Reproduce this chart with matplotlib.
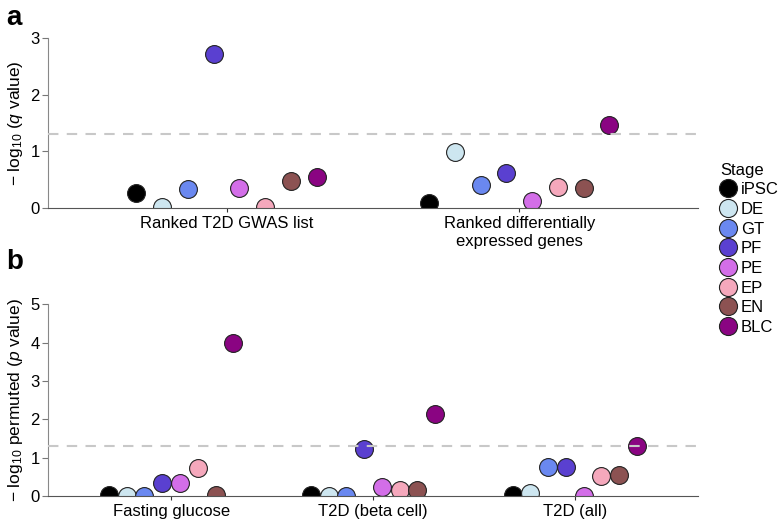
import numpy as np
import matplotlib
matplotlib.use("Agg")
import matplotlib.pyplot as plt
from matplotlib.lines import Line2D

plt.rcParams['font.family'] = ['Liberation Sans', 'DejaVu Sans']
plt.rcParams['mathtext.fontset'] = 'custom'
plt.rcParams['mathtext.rm'] = 'Liberation Sans'
plt.rcParams['mathtext.it'] = 'Liberation Sans:italic'

stages = ["iPSC", "DE", "GT", "PF", "PE", "EP", "EN", "BLC"]
stage_colors = ["#000000", "#cde6f0", "#6a88f0", "#5a40d0", "#d36ee8",
                "#f5a8bc", "#8c5252", "#8a0482"]

# panel a: -log10 q value
cats_a = ["Ranked T2D GWAS list", "Ranked differentially\nexpressed genes"]
vals_a = [
    [0.27, 0.02, 0.34, 2.71, 0.35, 0.02, 0.48, 0.55],
    [0.08, 0.98, 0.40, 0.62, 0.13, 0.37, 0.35, 1.47],
]

# panel b: -log10 permuted p value
cats_b = ["Fasting glucose", "T2D (beta cell)", "T2D (all)"]
vals_b = [
    [0.02, 0.0, 0.0, 0.33, 0.34, 0.74, 0.02, 3.99],
    [0.02, 0.0, 0.0, 1.23, 0.23, 0.15, 0.15, 2.13],
    [0.02, 0.07, 0.75, 0.76, 0.0, 0.53, 0.54, 1.30],
]

threshold = -np.log10(0.05)
step = 0.088
offsets = (np.arange(len(stages)) - 3.5) * step

fig = plt.figure(figsize=(7.82, 5.20), dpi=100)
ax_a = fig.add_axes([0.0614, 0.60, 0.831, 0.327])
ax_b = fig.add_axes([0.0614, 0.046, 0.831, 0.369])


def panel(ax, cats, vals, ymax, ylabel):
    ax.axhline(threshold, color="#c8c8c8", lw=1.5, ls=(0, (5, 4)), zorder=3)
    for gi, row in enumerate(vals):
        for si, v in enumerate(row):
            ax.scatter(gi + offsets[si], v, s=165, color=stage_colors[si],
                       edgecolor="#222222", linewidth=0.8, zorder=2)
    ax.set_xlim(-0.61, len(cats) - 1 + 0.61)
    ax.set_ylim(0, ymax)
    ax.set_yticks(range(ymax + 1))
    ax.set_xticks(range(len(cats)))
    ax.set_xticklabels(cats, fontsize=12)
    ax.tick_params(axis="y", labelsize=12, length=4, color="#777777", pad=2)
    ax.tick_params(axis="x", length=3, color="#333333", pad=3)
    for s in ["top", "right"]:
        ax.spines[s].set_visible(False)
    ax.spines["left"].set_color("#888888")
    ax.spines["bottom"].set_color("#555555")
    ax.set_ylabel(ylabel, fontsize=12.5, labelpad=4)


panel(ax_a, cats_a, vals_a, 3, r"$-$ log$_{10}$ ($q$ value)")
panel(ax_b, cats_b, vals_b, 5, r"$-$ log$_{10}$ permuted ($p$ value)")

fig.text(0.008, 0.965, "a", fontsize=20, fontweight="bold", va="center")
fig.text(0.008, 0.497, "b", fontsize=20, fontweight="bold", va="center")

handles = [Line2D([], [], ls="", marker="o", markersize=13, markerfacecolor=c,
                  markeredgecolor="#222222", markeredgewidth=0.8) for c in stage_colors]
leg = fig.legend(handles, stages, title="Stage", loc="upper left",
                 bbox_to_anchor=(0.912, 0.70), frameon=False, fontsize=12,
                 title_fontsize=12, handletextpad=0.25, labelspacing=0.28,
                 borderaxespad=0, handlelength=1.0)
leg._legend_box.align = "left"

fig.savefig("out.png", dpi=100)
